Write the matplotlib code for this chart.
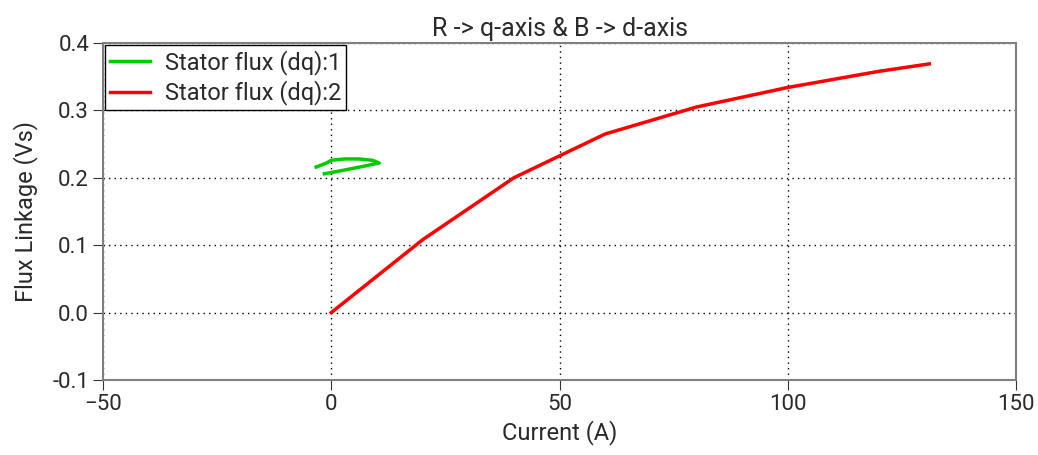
import matplotlib
matplotlib.use('Agg')
import matplotlib.pyplot as plt

# Stator flux (dq):1 -- small closed loop near the origin
flux1_i = [-1.5, 1.0, 4.0, 7.0, 10.5, 9.0, 6.0, 3.0, 0.0, -1.0, -3.3]
flux1_psi = [0.206, 0.209, 0.213, 0.217, 0.222, 0.226, 0.228, 0.228, 0.226, 0.222, 0.216]

# Stator flux (dq):2 -- magnetisation curve
flux2_i = [0, 20, 40, 60, 80, 100, 120, 131]
flux2_psi = [0.0, 0.108, 0.200, 0.265, 0.305, 0.334, 0.358, 0.369]

xticks = [-50, 0, 50, 100, 150]
yticks = [-0.1, 0.0, 0.1, 0.2, 0.3, 0.4]

plt.rcParams['font.family'] = ['Roboto', 'DejaVu Sans']
plt.rcParams['text.color'] = '#2a2a2a'
plt.rcParams['axes.labelcolor'] = '#2a2a2a'

fig = plt.figure(figsize=(10.38, 4.55), dpi=100)
ax = fig.add_axes([103/1038, 1 - 380/455, (1016 - 103)/1038, (380 - 43)/455])

ax.plot(flux1_i, flux1_psi, color='#00cc00', lw=2.5, label='Stator flux (dq):1')
ax.plot(flux2_i, flux2_psi, color='#ff0000', lw=2.5, label='Stator flux (dq):2')

ax.set_xlim(-50, 150)
ax.set_ylim(-0.1, 0.4)
ax.set_xticks(xticks)
ax.set_yticks(yticks)
ax.set_yticklabels([f'{v:.1f}' for v in yticks])
ax.tick_params(labelsize=16, direction='out', length=7, color='#333333',
               labelcolor='#2a2a2a', pad=3)
ax.grid(True, color='black', linestyle=(0, (1, 3)), linewidth=1)
for s in ax.spines.values():
    s.set_color('#808080')
    s.set_linewidth(1.5)

ax.set_xlabel('Current (A)', fontsize=17, labelpad=4)
ax.set_ylabel('Flux Linkage (Vs)', fontsize=17, labelpad=10)
ax.set_title('R -> q-axis & B -> d-axis', fontsize=18, pad=5)

leg = ax.legend(loc='upper left', fontsize=17, fancybox=False, framealpha=1,
                edgecolor='black', borderaxespad=0.08, handlelength=1.7,
                borderpad=0.2, labelspacing=0.25, handletextpad=0.65)
leg.get_frame().set_linewidth(1.0)

fig.savefig('out.png', dpi=100)
